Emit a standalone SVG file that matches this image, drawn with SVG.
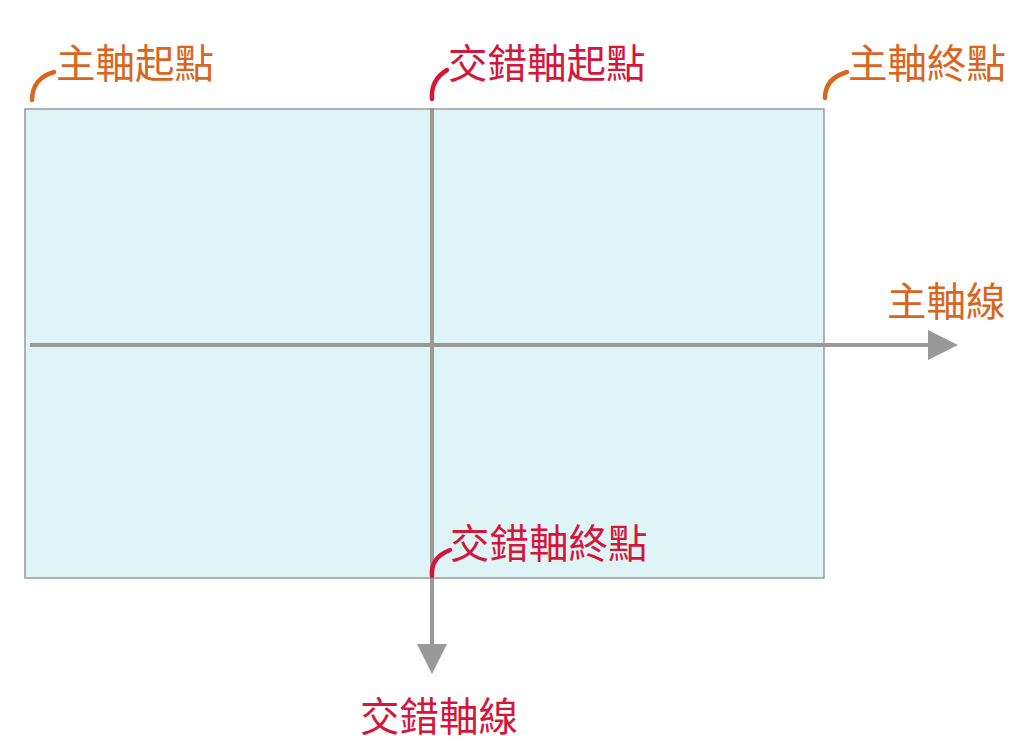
<svg xmlns="http://www.w3.org/2000/svg" width="1024" height="746" viewBox="0 0 1024 746">
<style>
.t{font-family:"Noto Sans CJK TC","Noto Sans CJK SC",sans-serif;font-size:39.5px}
.o{fill:#d9661e}
.r{fill:#d4163a}
.ho{fill:none;stroke:#d9661e;stroke-width:4.5;stroke-linecap:round}
.hr{fill:none;stroke:#d4163a;stroke-width:4.5;stroke-linecap:round}
.ax{stroke:#999;stroke-width:4;fill:none}
</style>
<defs>
<marker id="ah" markerUnits="userSpaceOnUse" markerWidth="30" markerHeight="30" refX="0" refY="15" orient="auto" viewBox="0 0 30 30">
<path d="M0,0 L30,15 L0,30 Z" fill="#999"/>
</marker>
</defs>
<g id="container">
<rect x="25" y="109" width="799" height="469" fill="#dff4f7" stroke="#999" stroke-width="1.5"/>
</g>
<g id="connectors">
<path class="ax" d="M30,345 L928,345" marker-end="url(#ah)"/>
<path class="ax" d="M432,108 L432,644" marker-end="url(#ah)"/>
</g>
<g id="main-start">
<path class="ho" d="M32,100 C32,86 40,76 54,72"/>
<text class="t o" x="56" y="78">主軸起點</text>
</g>
<g id="cross-start">
<path class="hr" d="M432,99 C431,86 437,76 447,70"/>
<text class="t r" x="448" y="78">交錯軸起點</text>
</g>
<g id="main-end">
<path class="ho" d="M825,98 C825,84 833,76 847,72"/>
<text class="t o" x="848" y="78">主軸終點</text>
</g>
<g id="cross-end">
<path class="hr" d="M432,576 C431,564 437,555 450,550"/>
<text class="t r" x="450" y="558">交錯軸終點</text>
</g>
<g id="main-axis-label">
<text class="t o" x="887" y="316">主軸線</text>
</g>
<g id="cross-axis-label">
<text class="t r" x="360" y="731">交錯軸線</text>
</g>
</svg>
